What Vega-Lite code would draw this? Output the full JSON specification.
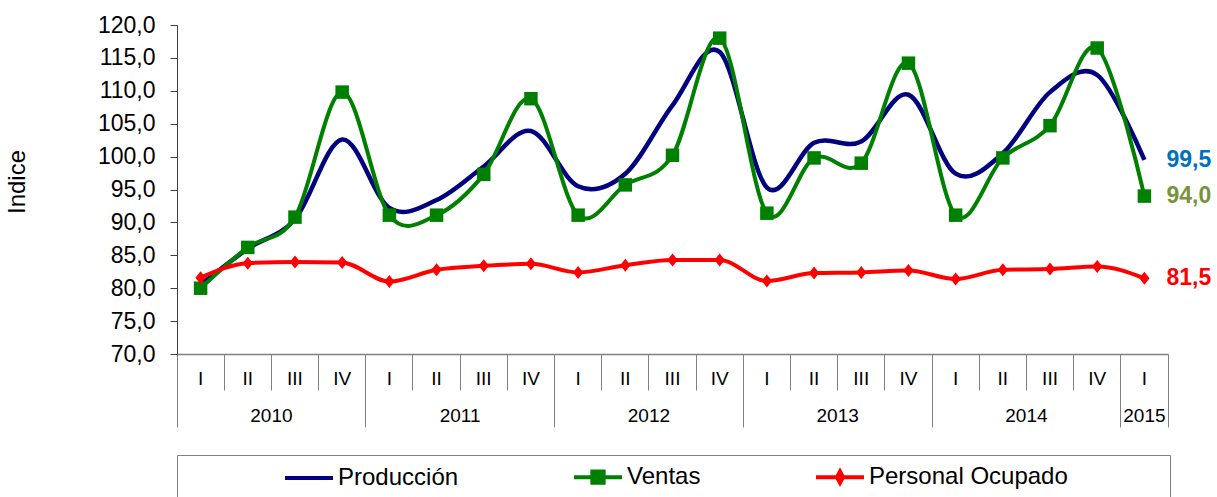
{
  "$schema": "https://vega.github.io/schema/vega-lite/v6.json",
  "width": 991,
  "height": 329,
  "autosize": {"type": "none"},
  "padding": {"left": 177, "top": 25, "right": 49, "bottom": 143},
  "background": "white",
  "config": {
    "font": "Liberation Sans",
    "view": {"stroke": null},
    "locale": {"number": {"decimal": ",", "thousands": ".", "grouping": [3], "currency": ["", " €"]}},
    "axis": {"grid": false, "labelFont": "Liberation Sans", "titleFont": "Liberation Sans"}
  },
  "data": {"values": [
    {"periodo": "2010-I", "serie": "Producción", "valor": 80.5},
    {"periodo": "2010-II", "serie": "Producción", "valor": 86.0},
    {"periodo": "2010-III", "serie": "Producción", "valor": 90.5},
    {"periodo": "2010-IV", "serie": "Producción", "valor": 102.6},
    {"periodo": "2011-I", "serie": "Producción", "valor": 92.2},
    {"periodo": "2011-II", "serie": "Producción", "valor": 93.4},
    {"periodo": "2011-III", "serie": "Producción", "valor": 98.5},
    {"periodo": "2011-IV", "serie": "Producción", "valor": 103.9},
    {"periodo": "2012-I", "serie": "Producción", "valor": 95.5},
    {"periodo": "2012-II", "serie": "Producción", "valor": 97.4},
    {"periodo": "2012-III", "serie": "Producción", "valor": 107.8},
    {"periodo": "2012-IV", "serie": "Producción", "valor": 115.9},
    {"periodo": "2013-I", "serie": "Producción", "valor": 95.3},
    {"periodo": "2013-II", "serie": "Producción", "valor": 102.1},
    {"periodo": "2013-III", "serie": "Producción", "valor": 102.3},
    {"periodo": "2013-IV", "serie": "Producción", "valor": 109.4},
    {"periodo": "2014-I", "serie": "Producción", "valor": 97.4},
    {"periodo": "2014-II", "serie": "Producción", "valor": 100.5},
    {"periodo": "2014-III", "serie": "Producción", "valor": 109.8},
    {"periodo": "2014-IV", "serie": "Producción", "valor": 112.4},
    {"periodo": "2015-I", "serie": "Producción", "valor": 99.5},
    {"periodo": "2010-I", "serie": "Ventas", "valor": 80.0},
    {"periodo": "2010-II", "serie": "Ventas", "valor": 86.2},
    {"periodo": "2010-III", "serie": "Ventas", "valor": 90.8},
    {"periodo": "2010-IV", "serie": "Ventas", "valor": 109.8},
    {"periodo": "2011-I", "serie": "Ventas", "valor": 91.1},
    {"periodo": "2011-II", "serie": "Ventas", "valor": 91.1},
    {"periodo": "2011-III", "serie": "Ventas", "valor": 97.3},
    {"periodo": "2011-IV", "serie": "Ventas", "valor": 108.8},
    {"periodo": "2012-I", "serie": "Ventas", "valor": 91.1},
    {"periodo": "2012-II", "serie": "Ventas", "valor": 95.7},
    {"periodo": "2012-III", "serie": "Ventas", "valor": 100.2},
    {"periodo": "2012-IV", "serie": "Ventas", "valor": 118.0},
    {"periodo": "2013-I", "serie": "Ventas", "valor": 91.4},
    {"periodo": "2013-II", "serie": "Ventas", "valor": 99.8},
    {"periodo": "2013-III", "serie": "Ventas", "valor": 99.0},
    {"periodo": "2013-IV", "serie": "Ventas", "valor": 114.2},
    {"periodo": "2014-I", "serie": "Ventas", "valor": 91.1},
    {"periodo": "2014-II", "serie": "Ventas", "valor": 99.8},
    {"periodo": "2014-III", "serie": "Ventas", "valor": 104.7},
    {"periodo": "2014-IV", "serie": "Ventas", "valor": 116.5},
    {"periodo": "2015-I", "serie": "Ventas", "valor": 94.0},
    {"periodo": "2010-I", "serie": "Personal Ocupado", "valor": 81.6},
    {"periodo": "2010-II", "serie": "Personal Ocupado", "valor": 83.8},
    {"periodo": "2010-III", "serie": "Personal Ocupado", "valor": 84.0},
    {"periodo": "2010-IV", "serie": "Personal Ocupado", "valor": 83.9},
    {"periodo": "2011-I", "serie": "Personal Ocupado", "valor": 81.0},
    {"periodo": "2011-II", "serie": "Personal Ocupado", "valor": 82.8},
    {"periodo": "2011-III", "serie": "Personal Ocupado", "valor": 83.4},
    {"periodo": "2011-IV", "serie": "Personal Ocupado", "valor": 83.7},
    {"periodo": "2012-I", "serie": "Personal Ocupado", "valor": 82.4},
    {"periodo": "2012-II", "serie": "Personal Ocupado", "valor": 83.5},
    {"periodo": "2012-III", "serie": "Personal Ocupado", "valor": 84.3},
    {"periodo": "2012-IV", "serie": "Personal Ocupado", "valor": 84.3},
    {"periodo": "2013-I", "serie": "Personal Ocupado", "valor": 81.1},
    {"periodo": "2013-II", "serie": "Personal Ocupado", "valor": 82.3},
    {"periodo": "2013-III", "serie": "Personal Ocupado", "valor": 82.4},
    {"periodo": "2013-IV", "serie": "Personal Ocupado", "valor": 82.7},
    {"periodo": "2014-I", "serie": "Personal Ocupado", "valor": 81.4},
    {"periodo": "2014-II", "serie": "Personal Ocupado", "valor": 82.8},
    {"periodo": "2014-III", "serie": "Personal Ocupado", "valor": 82.9},
    {"periodo": "2014-IV", "serie": "Personal Ocupado", "valor": 83.3},
    {"periodo": "2015-I", "serie": "Personal Ocupado", "valor": 81.5}
  ]},
  "encoding": {
    "y": {"field": "valor", "type": "quantitative",
      "scale": {"domain": [70, 120], "nice": false, "zero": false},
      "axis": {"values": [70, 75, 80, 85, 90, 95, 100, 105, 110, 115, 120], "labelOverlap": false, "labelFlush": false, "format": ".1f", "labelFontSize": 23, "labelColor": "#000000", "labelPadding": 15, "tickSize": 7, "tickColor": "#404040", "domainColor": "#404040", "domainWidth": 1, "title": "Indice", "titleFontSize": 24, "titleFontWeight": "normal", "titleColor": "#000000", "titleX": -160, "titleY": 156.5, "titleAngle": 270, "titleAlign": "center", "titleBaseline": "middle", "grid": false}}
  },
  "resolve": {"axis": {"x": "independent"}},
  "layer": [
    {
      "transform": [{"filter": {"field": "serie", "equal": "Producción"}}],
      "mark": {"type": "line", "interpolate": "cardinal", "strokeWidth": 4.5},
      "encoding": {
        "x": {"field": "periodo", "type": "ordinal", "sort": null,
          "scale": {"type": "band", "paddingInner": 0, "paddingOuter": 0, "domain": ["2010-I","2010-II","2010-III","2010-IV","2011-I","2011-II","2011-III","2011-IV","2012-I","2012-II","2012-III","2012-IV","2013-I","2013-II","2013-III","2013-IV","2014-I","2014-II","2014-III","2014-IV","2015-I"]},
          "axis": {"orient": "bottom", "labelExpr": "split(datum.value, '-')[1]", "ticks": false, "domain": true, "domainColor": "#808080", "domainWidth": 1.5, "labelFontSize": 19, "labelColor": "#000000", "labelPadding": 24, "labelBaseline": "middle", "labelAngle": 0, "title": null, "labelOverlap": false, "labelFlush": false}},
        "color": {"field": "serie", "type": "nominal",
          "scale": {"domain": ["Producción", "Ventas", "Personal Ocupado"], "range": ["#000080", "#008000", "#FF0000"]},
          "legend": {
            "orient": "none", "legendX": 0, "legendY": 430, "direction": "horizontal", "columns": 3,
            "title": " ", "titleOrient": "right", "titlePadding": 92, "titleFontSize": 24,
            "strokeColor": "#808080", "fillColor": "white", "padding": 10,
            "labelFontSize": 24, "labelFont": "Liberation Sans", "labelColor": "#000000", "labelLimit": 400, "labelOffset": 17,
            "symbolSize": 225, "symbolOffset": 110, "columnPadding": 17, "symbolStrokeWidth": 4,
            "encode": {"symbols": {"update": {
              "shape": {"signal": "datum.value === 'Ventas' ? 'M-3.2,0H3.2M-0.75,-0.75H0.75V0.75H-0.75Z' : datum.value === 'Personal Ocupado' ? 'M-3.2,0H3.2M0,-0.75L0.4,0L0,0.75L-0.4,0Z' : 'M-3.2,0H3.2'"},
              "fill": {"signal": "scale('color', datum.value)"},
              "stroke": {"signal": "scale('color', datum.value)"},
              "strokeWidth": {"value": 4},
              "opacity": {"value": 1}
            }}}
          }}
      }
    },
    {
      "transform": [{"filter": {"field": "serie", "equal": "Ventas"}}],
      "mark": {"type": "line", "interpolate": "cardinal", "strokeWidth": 4},
      "encoding": {
        "x": {"field": "periodo", "type": "ordinal", "sort": null,
          "axis": {"orient": "bottom", "bandPosition": 0, "ticks": true, "tickSize": 36, "tickColor": "#808080", "tickWidth": 1, "labels": false, "domain": false, "title": null}},
        "color": {"field": "serie", "type": "nominal"}
      }
    },
    {
      "transform": [{"filter": {"field": "serie", "equal": "Ventas"}}],
      "mark": {"type": "point", "shape": "square", "filled": true, "size": 182, "color": "#008000", "opacity": 1},
      "encoding": {
        "x": {"field": "periodo", "type": "ordinal", "sort": null,
          "axis": {"orient": "bottom", "values": ["2010-I", "2011-I", "2012-I", "2013-I", "2014-I"], "bandPosition": 0, "ticks": true, "tickSize": 73, "tickColor": "#808080", "tickWidth": 1, "domain": false, "labelExpr": "substring(datum.value, 0, 4)", "labelOffset": 70.79, "labelPadding": -12, "labelBaseline": "middle", "labelFontSize": 19, "labelAngle": 0, "labelColor": "#000000", "title": null, "labelOverlap": false, "labelFlush": false, "labelBound": false}}
      }
    },
    {
      "transform": [{"filter": {"field": "serie", "equal": "Personal Ocupado"}}],
      "mark": {"type": "line", "interpolate": "monotone", "strokeWidth": 4},
      "encoding": {
        "x": {"field": "periodo", "type": "ordinal", "sort": null,
          "axis": {"orient": "bottom", "values": ["2015-I"], "bandPosition": 0, "ticks": true, "tickSize": 73, "tickColor": "#808080", "tickWidth": 1, "domain": false, "labelExpr": "substring(datum.value, 0, 4)", "labelOffset": 0, "labelPadding": -12, "labelBaseline": "middle", "labelFontSize": 19, "labelAngle": 0, "labelColor": "#000000", "title": null, "labelOverlap": false, "labelFlush": false, "labelBound": false}},
        "color": {"field": "serie", "type": "nominal"}
      }
    },
    {
      "transform": [{"filter": {"field": "serie", "equal": "Personal Ocupado"}}],
      "mark": {"type": "point", "shape": "M0,-1L0.8,0L0,1L-0.8,0Z", "filled": true, "size": 169, "color": "#FF0000", "opacity": 1},
      "encoding": {
        "x": {"field": "periodo", "type": "ordinal", "sort": null,
          "axis": {"orient": "bottom", "values": ["2015-I"], "bandPosition": 1, "ticks": true, "tickSize": 73, "tickColor": "#808080", "tickWidth": 1, "labels": false, "domain": false, "title": null}}
      }
    },
    {
      "transform": [{"filter": {"field": "periodo", "equal": "2015-I"}}],
      "mark": {"type": "text", "align": "left", "baseline": "middle", "dx": 22, "fontSize": 23, "fontWeight": "bold"},
      "encoding": {
        "x": {"field": "periodo", "type": "ordinal", "sort": null, "axis": null},
        "text": {"field": "valor", "type": "quantitative", "format": ".1f"},
        "color": {"condition": [{"test": "datum.serie === 'Producción'", "value": "#0070C0"}, {"test": "datum.serie === 'Ventas'", "value": "#77933C"}], "value": "#FF0000"}
      }
    }
  ]
}
